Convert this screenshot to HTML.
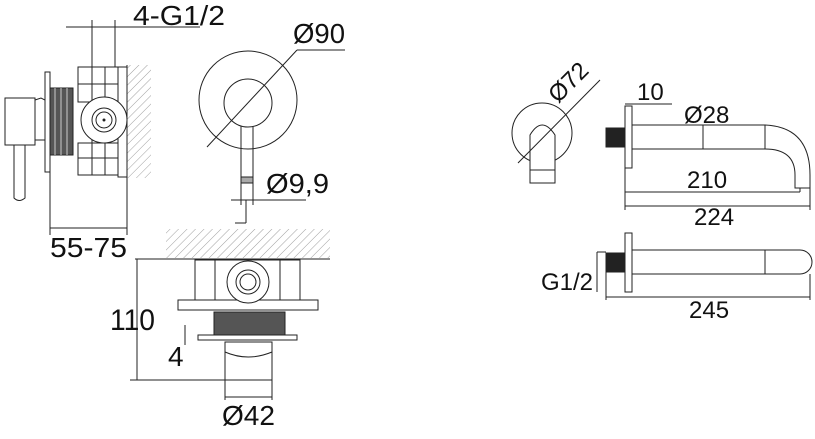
<!DOCTYPE html>
<html><head><meta charset="utf-8"><style>
html,body{margin:0;padding:0;background:#fff;}
svg{display:block;}
text{font-family:"Liberation Sans",sans-serif;fill:#111;}
</style></head><body>
<svg width="815" height="439" viewBox="0 0 815 439" xmlns="http://www.w3.org/2000/svg">
<defs>
<pattern id="h" width="6" height="6" patternUnits="userSpaceOnUse" patternTransform="rotate(45)">
<line x1="0" y1="0" x2="0" y2="6" stroke="#888" stroke-width="0.8"/>
</pattern>
</defs>
<g fill="none" stroke="#222" stroke-width="1">
<rect x="127" y="65" width="24" height="113" fill="url(#h)" stroke="none"/>
<line x1="127" y1="65" x2="127" y2="178"/>
<rect x="45" y="72" width="5" height="100"/>
<rect x="50" y="88" width="23" height="67" fill="#555"/>
<line x1="55" y1="88" x2="55" y2="155" stroke="#ccc"/><line x1="61" y1="88" x2="61" y2="155" stroke="#ccc"/><line x1="67" y1="88" x2="67" y2="155" stroke="#ccc"/>
<rect x="5" y="98" width="30" height="47"/>
<path d="M35 100 L41 98 L45 100 L45 140 L35 140"/>
<path d="M14 145 L14 198 Q19 203 25 198 L25 145"/>
<rect x="78" y="67" width="40" height="35"/><rect x="78" y="143" width="40" height="32"/>
<line x1="92" y1="67" x2="92" y2="175"/><line x1="105" y1="67" x2="105" y2="102"/><line x1="105" y1="143" x2="105" y2="175"/>
<line x1="78" y1="84" x2="118" y2="84"/><line x1="78" y1="158" x2="118" y2="158"/>
<rect x="118" y="67" width="9" height="110"/>
<circle cx="104" cy="120" r="23" fill="#fff"/>
<circle cx="104" cy="120" r="12"/><circle cx="104" cy="120" r="8"/><circle cx="104" cy="120" r="1" fill="#222"/>
<line x1="66" y1="27" x2="200" y2="27"/>
<line x1="92" y1="20" x2="92" y2="67"/><line x1="115" y1="20" x2="115" y2="67"/>
<line x1="50" y1="172" x2="50" y2="235"/><line x1="127" y1="178" x2="127" y2="235"/>
<line x1="50" y1="228" x2="127" y2="228"/>
<circle cx="248" cy="100" r="49"/>
<circle cx="248" cy="103" r="24"/>
<path d="M241 126 L241 183 L253 183 L253 126"/>
<rect x="241" y="177" width="12" height="6" fill="#aaa"/>
<line x1="207" y1="147" x2="297" y2="50"/><line x1="297" y1="50" x2="345" y2="50"/>
<line x1="231" y1="200" x2="306" y2="200"/>
<line x1="241" y1="183" x2="241" y2="205"/><line x1="253" y1="183" x2="253" y2="205"/>
<line x1="246" y1="200" x2="246" y2="223"/><line x1="235" y1="223" x2="246" y2="223"/>
<rect x="166" y="229" width="164" height="29" fill="url(#h)" stroke="none"/>
<line x1="135" y1="259" x2="330" y2="259"/>
<rect x="195" y="260" width="105" height="40"/>
<line x1="215" y1="260" x2="215" y2="300"/><line x1="280" y1="260" x2="280" y2="300"/>
<rect x="178" y="300" width="140" height="10"/>
<circle cx="248" cy="282" r="21" fill="#fff"/><circle cx="248" cy="282" r="12"/><circle cx="248" cy="282" r="8"/>
<rect x="214" y="312" width="71" height="23" fill="#555"/>
<rect x="198" y="335" width="99" height="5"/>
<rect x="225" y="342" width="47" height="38"/>
<path d="M225 352 Q248 362 272 352"/>
<line x1="130" y1="380" x2="272" y2="380"/>
<line x1="137" y1="259" x2="137" y2="380"/>
<line x1="185" y1="325" x2="185" y2="345"/>
<line x1="225" y1="380" x2="225" y2="400"/><line x1="272" y1="380" x2="272" y2="400"/>
<line x1="225" y1="397" x2="272" y2="397"/>
<circle cx="542" cy="133" r="30"/>
<path d="M530 183 L530 135 Q542 115 555 135 L555 183 Z" fill="#fff"/>
<line x1="530" y1="170" x2="555" y2="170"/>
<line x1="518" y1="163" x2="600" y2="80"/>
<rect x="606" y="128" width="19" height="19" fill="#222"/>
<rect x="625" y="106" width="7" height="62"/>
<path d="M632 125 L765 125 Q810 127 810 175 L810 188 L795 188 L795 175 Q795 149 765 149 L632 149"/>
<line x1="765" y1="125" x2="765" y2="149"/>
<line x1="703" y1="125" x2="703" y2="149"/>
<line x1="625" y1="104" x2="672" y2="104"/>
<line x1="625" y1="168" x2="625" y2="210"/>
<line x1="625" y1="192" x2="800" y2="192"/><line x1="800" y1="188" x2="800" y2="192"/>
<line x1="625" y1="206" x2="810" y2="206"/><line x1="810" y1="188" x2="810" y2="210"/>
<rect x="606" y="253" width="19" height="19" fill="#222"/>
<rect x="625" y="233" width="7" height="59"/>
<path d="M632 250 L800 250 A12 12 0 0 1 800 274 L632 274"/>
<line x1="765" y1="250" x2="765" y2="274"/>
<line x1="597" y1="252" x2="606" y2="252"/><line x1="597" y1="252" x2="597" y2="292"/>
<line x1="606" y1="272" x2="606" y2="300"/>
<line x1="606" y1="297" x2="810" y2="297"/><line x1="810" y1="274" x2="810" y2="300"/>
</g>
<g font-size="28">
<text x="133" y="25" textLength="92" lengthAdjust="spacingAndGlyphs">4-G1/2</text>
<text x="293" y="43" textLength="52" lengthAdjust="spacingAndGlyphs">Ø90</text>
<text x="266" y="193" textLength="63" lengthAdjust="spacingAndGlyphs">Ø9,9</text>
<text x="50" y="257" textLength="77" lengthAdjust="spacingAndGlyphs">55-75</text>
<text x="110" y="330" font-size="30" textLength="45" lengthAdjust="spacingAndGlyphs">110</text>
<text x="168" y="366">4</text>
<text x="222" y="425" textLength="53" lengthAdjust="spacingAndGlyphs">Ø42</text>
</g>
<g font-size="24">
<text x="0" y="0" transform="translate(558,104) rotate(-45)">Ø72</text>
<text x="637" y="100">10</text>
<text x="684" y="123">Ø28</text>
<text x="687" y="188">210</text>
<text x="694" y="225">224</text>
<text x="541" y="290">G1/2</text>
<text x="689" y="318">245</text>
</g>
</svg>
</body></html>
